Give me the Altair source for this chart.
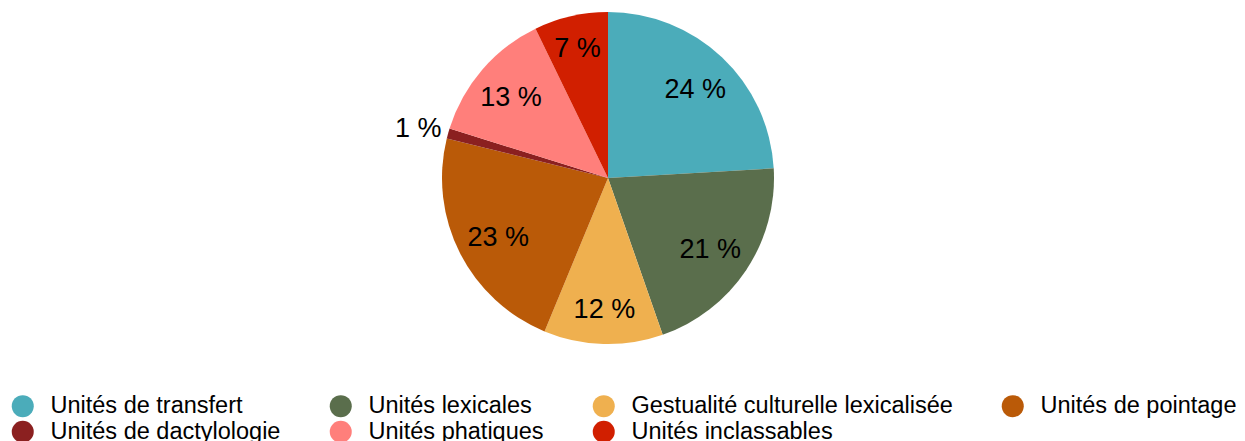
import altair as alt
import pandas as pd

categories = [
    "Unités de transfert",
    "Unités lexicales",
    "Gestualité culturelle lexicalisée",
    "Unités de pointage",
    "Unités de dactylologie",
    "Unités phatiques",
    "Unités inclassables",
]
shares = [24.1, 20.6, 11.6, 22.6, 1.0, 13.0, 7.2]
labels = ["24 %", "21 %", "12 %", "23 %", "1 %", "13 %", "7 %"]
colors = ["#4BACBA", "#5A6E4C", "#EFB04F", "#BA5A08", "#8B2020", "#FF7F7B", "#D11F00"]

df = pd.DataFrame({
    "cat": categories,
    "share": shares,
    "label": labels,
    "idx": list(range(len(categories))),
})

CX, CY, R = 600, 170, 166
FONT = "Liberation Sans"

color = alt.Color(
    "cat:N",
    scale=alt.Scale(domain=categories, range=colors),
    sort=categories,
    legend=alt.Legend(
        title=None,
        orient="none",
        direction="horizontal",
        legendX=3,
        legendY=386,
        columns=4,
        symbolType="circle",
        symbolSize=484,
        symbolStrokeWidth=0,
        labelFontSize=23.5,
        labelFont=FONT,
        labelColor="#000000",
        labelOffset=16,
        labelLimit=600,
        columnPadding=48,
        rowPadding=1,
        padding=0,
    ),
)

arcs = alt.Chart(df).mark_arc(outerRadius=R).encode(
    theta=alt.Theta("share:Q", stack=True),
    order=alt.Order("idx:Q"),
    color=color,
    x=alt.value(CX),
    y=alt.value(CY),
)

texts = alt.Chart(df).mark_text(
    font=FONT, fontSize=27, color="#000000", align="center", baseline="middle", dy=4
).transform_window(
    cum="sum(share)", sort=[alt.SortField("idx")]
).transform_joinaggregate(
    total="sum(share)"
).transform_calculate(
    ang="(datum.cum - datum.share / 2) / datum.total * 2 * PI",
    lr="datum.share < 2 ? 197 : (datum.share < 10 ? 136 : (datum.share < 16 ? 128 : (datum.share < 23 ? 123 : 127)))",
).transform_calculate(
    px=f"{CX} + datum.lr * sin(datum.ang)",
    py=f"{CY} - datum.lr * cos(datum.ang)",
).encode(
    text="label:N",
    x=alt.X("px:Q", scale=None),
    y=alt.Y("py:Q", scale=None),
)

chart = alt.layer(arcs, texts).properties(
    width=1229,
    height=433,
    padding=0,
    autosize=alt.AutoSizeParams(type="none"),
).configure_view(stroke=None)

chart.save("out.html", embed_options={"renderer": "svg", "actions": False})
